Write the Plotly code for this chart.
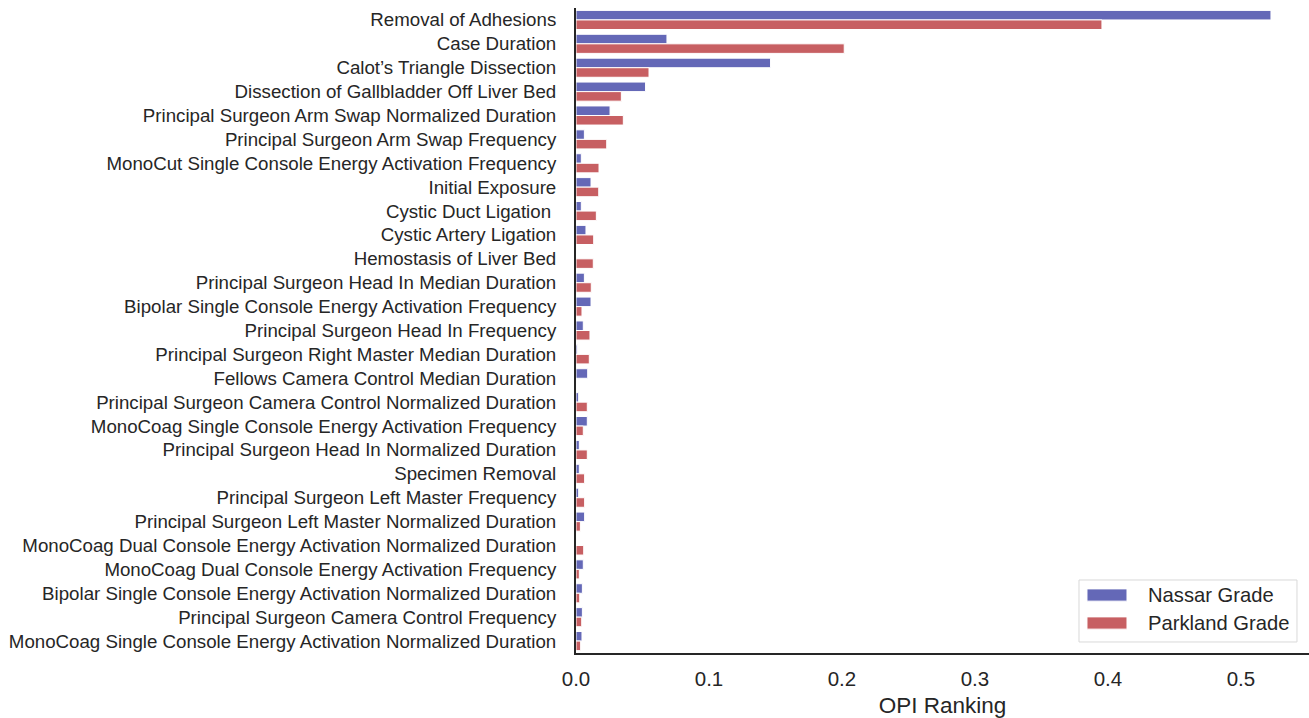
import plotly.graph_objects as go

# OPI features, ordered as ranked
features = [
    "Removal of Adhesions",
    "Case Duration",
    "Calot’s Triangle Dissection",
    "Dissection of Gallbladder Off Liver Bed",
    "Principal Surgeon Arm Swap Normalized Duration",
    "Principal Surgeon Arm Swap Frequency",
    "MonoCut Single Console Energy Activation Frequency",
    "Initial Exposure",
    "Cystic Duct Ligation ",
    "Cystic Artery Ligation",
    "Hemostasis of Liver Bed",
    "Principal Surgeon Head In Median Duration",
    "Bipolar Single Console Energy Activation Frequency",
    "Principal Surgeon Head In Frequency",
    "Principal Surgeon Right Master Median Duration",
    "Fellows Camera Control Median Duration",
    "Principal Surgeon Camera Control Normalized Duration",
    "MonoCoag Single Console Energy Activation Frequency",
    "Principal Surgeon Head In Normalized Duration",
    "Specimen Removal",
    "Principal Surgeon Left Master Frequency",
    "Principal Surgeon Left Master Normalized Duration",
    "MonoCoag Dual Console Energy Activation Normalized Duration",
    "MonoCoag Dual Console Energy Activation Frequency",
    "Bipolar Single Console Energy Activation Normalized Duration",
    "Principal Surgeon Camera Control Frequency",
    "MonoCoag Single Console Energy Activation Normalized Duration",
]

nassar = [0.5226, 0.0684, 0.1463, 0.0523, 0.0256, 0.0063, 0.0040, 0.0113,
          0.0040, 0.0075, 0.0, 0.0063, 0.0113, 0.0055, 0.0010, 0.0088,
          0.0020, 0.0085, 0.0025, 0.0025, 0.0020, 0.0065, 0.0, 0.0055,
          0.0048, 0.0048, 0.0045]

parkland = [0.3955, 0.2017, 0.0549, 0.0341, 0.0356, 0.0231, 0.0173, 0.0171,
            0.0153, 0.0133, 0.0130, 0.0115, 0.0045, 0.0105, 0.0100, 0.0,
            0.0085, 0.0055, 0.0085, 0.0065, 0.0065, 0.0033, 0.0058, 0.0025,
            0.0028, 0.0043, 0.0035]

series_names = ["Nassar Grade", "Parkland Grade"]
colors = ["#6468b7", "#c75f62"]
ink = "#262626"
font = "Liberation Sans, Arial, sans-serif"

fig = go.Figure()
for name, vals, col in zip(series_names, [nassar, parkland], colors):
    fig.add_trace(go.Bar(
        x=vals, y=features, orientation="h", name=name,
        marker=dict(color=col, line=dict(color="white", width=1)),
        showlegend=False,
    ))

fig.update_layout(
    width=1309, height=718,
    margin=dict(l=576, r=0, t=8, b=65),
    paper_bgcolor="white", plot_bgcolor="white",
    barmode="group", bargap=0.2, bargroupgap=0.0,
    font=dict(family=font, color=ink, size=18.7),
    xaxis=dict(
        range=[0, 0.5512], tickvals=[0, 0.1, 0.2, 0.3, 0.4, 0.5],
        ticktext=["0.0", "0.1", "0.2", "0.3", "0.4", "0.5"],
        showgrid=False, zeroline=False, showline=True,
        linecolor=ink, linewidth=2,
        ticks="outside", ticklen=6, tickcolor="rgba(0,0,0,0)",
        tickfont=dict(size=20.5),
        title=dict(text="OPI Ranking", font=dict(size=22.5), standoff=9),
    ),
    yaxis=dict(
        autorange="reversed", showgrid=False, zeroline=False,
        showline=True, linecolor=ink, linewidth=2,
        ticks="outside", ticklen=14, tickcolor="rgba(0,0,0,0)",
        tickfont=dict(size=18.7),
    ),
)

# Legend box drawn in paper coordinates
fig.add_shape(type="rect", xref="paper", yref="paper",
              x0=0.6862, x1=0.9836, y0=0.0171, y1=0.1132,
              line=dict(color="#d9d9d9", width=1), fillcolor="white")
entry_y = [0.0899, 0.0465]
for name, col, yc in zip(series_names, colors, entry_y):
    fig.add_shape(type="rect", xref="paper", yref="paper",
                  x0=0.6971, x1=0.7517, y0=yc - 0.0095, y1=yc + 0.0095,
                  line=dict(color="white", width=1), fillcolor=col)
    fig.add_annotation(x=0.7777, y=yc, xref="paper", yref="paper",
                       text=name, showarrow=False, xanchor="left",
                       yanchor="middle", font=dict(size=20.2, color=ink))

fig.write_html("out.html")
